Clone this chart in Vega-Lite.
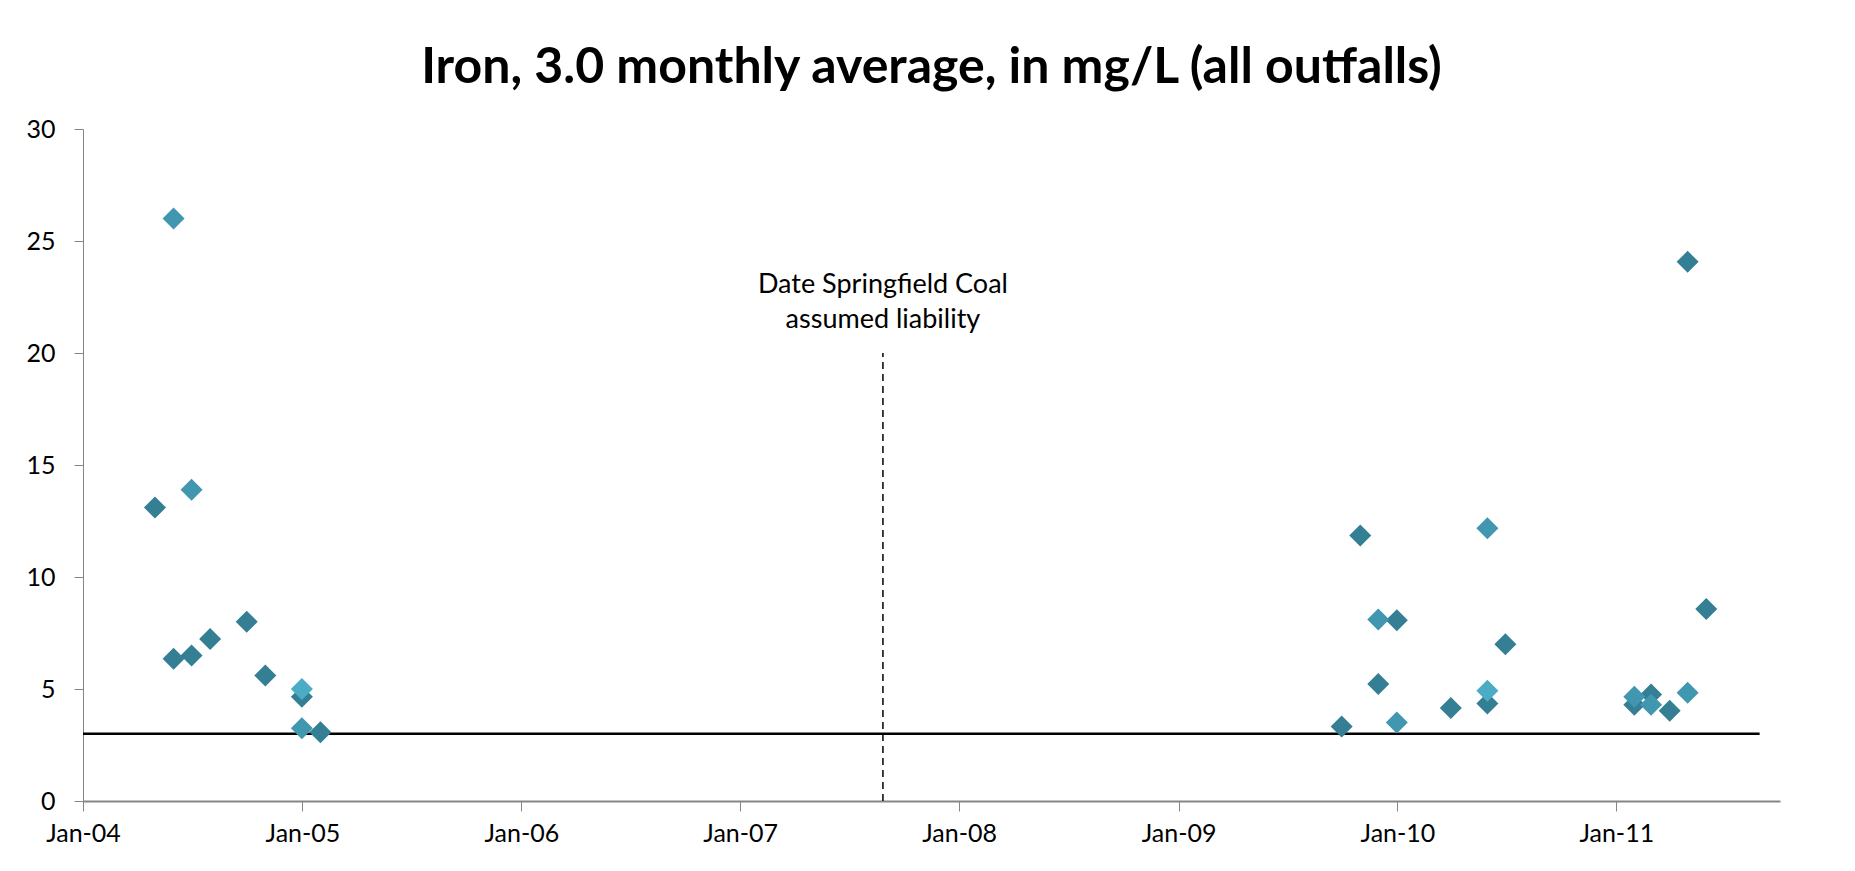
{
  "$schema": "https://vega.github.io/schema/vega-lite/v6.json",
  "width": 1697,
  "height": 672,
  "padding": {"left": 23, "top": 43, "right": 75, "bottom": 10},
  "background": "white",
  "title": {
    "text": "Iron, 3.0 monthly average, in mg/L (all outfalls)",
    "font": "Lato",
    "fontSize": 50,
    "fontWeight": "bold",
    "color": "black",
    "anchor": "middle",
    "offset": 24
  },
  "config": {
    "view": {"stroke": null},
    "font": "Lato",
    "axis": {"grid": false, "labelFont": "Lato", "labelColor": "black", "domainColor": "#868686", "tickColor": "#868686"}
  },
  "datasets": {
    "obs": [
      {"date": "2004-04-30", "value": 13.1, "series": "A"},
      {"date": "2004-05-31", "value": 6.35, "series": "A"},
      {"date": "2004-06-30", "value": 6.5, "series": "A"},
      {"date": "2004-07-31", "value": 7.23, "series": "A"},
      {"date": "2004-09-30", "value": 8.0, "series": "A"},
      {"date": "2004-10-31", "value": 5.6, "series": "A"},
      {"date": "2004-12-31", "value": 4.65, "series": "A"},
      {"date": "2005-01-31", "value": 3.07, "series": "A"},
      {"date": "2009-09-30", "value": 3.33, "series": "A"},
      {"date": "2009-10-31", "value": 11.85, "series": "A"},
      {"date": "2009-11-30", "value": 5.22, "series": "A"},
      {"date": "2009-12-31", "value": 8.07, "series": "A"},
      {"date": "2010-03-31", "value": 4.15, "series": "A"},
      {"date": "2010-05-31", "value": 4.35, "series": "A"},
      {"date": "2010-06-30", "value": 7.0, "series": "A"},
      {"date": "2011-01-31", "value": 4.3, "series": "A"},
      {"date": "2011-02-28", "value": 4.75, "series": "A"},
      {"date": "2011-03-31", "value": 4.03, "series": "A"},
      {"date": "2011-04-30", "value": 24.07, "series": "A"},
      {"date": "2011-05-31", "value": 8.57, "series": "A"},
      {"date": "2004-05-31", "value": 26.0, "series": "B"},
      {"date": "2004-06-30", "value": 13.9, "series": "B"},
      {"date": "2004-12-31", "value": 3.25, "series": "B"},
      {"date": "2009-11-30", "value": 8.1, "series": "B"},
      {"date": "2009-12-31", "value": 3.5, "series": "B"},
      {"date": "2010-05-31", "value": 12.18, "series": "B"},
      {"date": "2011-01-31", "value": 4.65, "series": "B"},
      {"date": "2011-02-28", "value": 4.3, "series": "B"},
      {"date": "2011-04-30", "value": 4.83, "series": "B"},
      {"date": "2004-12-31", "value": 5.0, "series": "C"},
      {"date": "2010-05-31", "value": 4.92, "series": "C"}
    ],
    "limit": [{"start": "2004-01-01", "end": "2011-08-28", "value": 3}],
    "event": [{"date": "2007-08-27", "low": 0, "high": 20}]
  },
  "layer": [
    {
      "data": {"name": "limit"},
      "mark": {"type": "rule", "color": "black", "strokeWidth": 2.5},
      "encoding": {
        "x": {"field": "start", "type": "temporal"},
        "x2": {"field": "end"},
        "y": {"field": "value", "type": "quantitative"}
      }
    },
    {
      "data": {"name": "event"},
      "mark": {"type": "rule", "color": "black", "strokeWidth": 1.5, "strokeDash": [7, 5]},
      "encoding": {
        "x": {"field": "date", "type": "temporal"},
        "y": {"field": "low", "type": "quantitative"},
        "y2": {"field": "high"}
      }
    },
    {
      "data": {"name": "event"},
      "mark": {"type": "text", "font": "Lato", "fontSize": 27, "color": "black", "align": "center", "baseline": "middle", "lineHeight": 35, "dy": -68, "text": ["Date Springfield Coal", "assumed liability"]},
      "encoding": {
        "x": {"field": "date", "type": "temporal"},
        "y": {"field": "high", "type": "quantitative"}
      }
    },
    {
      "data": {"name": "obs"},
      "mark": {"type": "point", "shape": "diamond", "filled": true, "size": 484, "opacity": 1},
      "encoding": {
        "x": {
          "field": "date",
          "type": "temporal",
          "title": null,
          "scale": {
            "type": "utc",
            "domain": [
              {"year": 2004, "month": 1, "date": 1, "utc": true},
              {"year": 2011, "month": 10, "date": 1, "utc": true}
            ]
          },
          "axis": {
            "values": [
              {"year": 2004, "month": 1, "date": 1, "utc": true},
              {"year": 2005, "month": 1, "date": 1, "utc": true},
              {"year": 2006, "month": 1, "date": 1, "utc": true},
              {"year": 2007, "month": 1, "date": 1, "utc": true},
              {"year": 2008, "month": 1, "date": 1, "utc": true},
              {"year": 2009, "month": 1, "date": 1, "utc": true},
              {"year": 2010, "month": 1, "date": 1, "utc": true},
              {"year": 2011, "month": 1, "date": 1, "utc": true}
            ],
            "labelExpr": "utcFormat(datum.value, '%b-%y')",
            "labelFontSize": 25,
            "labelPadding": 10,
            "tickSize": 10,
            "domainWidth": 2,
            "labelFlush": false
          }
        },
        "y": {
          "field": "value",
          "type": "quantitative",
          "title": null,
          "scale": {"domain": [0, 30], "nice": false, "zero": true},
          "axis": {"values": [0, 5, 10, 15, 20, 25, 30], "labelFontSize": 25, "labelPadding": 19, "tickSize": 9, "minExtent": 60, "maxExtent": 60}
        },
        "color": {
          "field": "series",
          "type": "nominal",
          "legend": null,
          "scale": {"domain": ["A", "B", "C"], "range": ["#347F94", "#4097AF", "#4BACC6"]}
        },
        "order": {"field": "series", "type": "ordinal"}
      }
    }
  ]
}
